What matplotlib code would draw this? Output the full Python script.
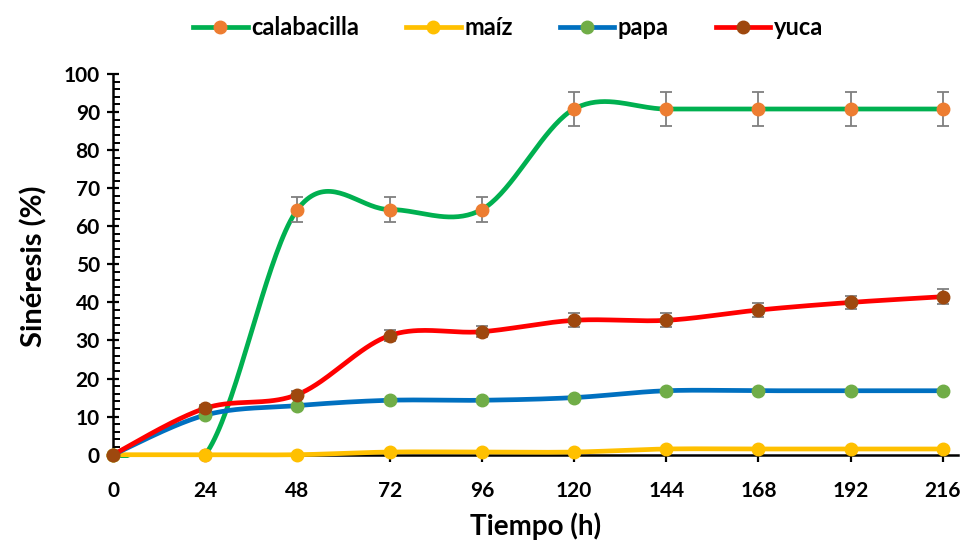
import numpy as np
import matplotlib
matplotlib.use("Agg")
import matplotlib.pyplot as plt
import matplotlib.ticker as ticker

plt.rcParams["font.family"] = ["Lato", "DejaVu Sans"]
plt.rcParams["font.weight"] = "bold"

# tiempo de almacenamiento (h)
tiempo = [0, 24, 48, 72, 96, 120, 144, 168, 192, 216]

calabacilla = [0, 0, 64.4, 64.4, 64.4, 90.8, 90.8, 90.8, 90.8, 90.8]
calabacilla_err = [0, 0, 3.3, 3.3, 3.3, 4.5, 4.5, 4.5, 4.5, 4.5]

maiz = [0, 0, 0, 0.7, 0.7, 0.7, 1.5, 1.5, 1.5, 1.5]
maiz_err = [0, 0, 0, 0, 0, 0, 0, 0, 0, 0]

papa = [0, 10.4, 12.9, 14.3, 14.3, 15.0, 16.8, 16.8, 16.8, 16.8]
papa_err = [0, 0, 0, 0, 0, 0, 0, 0, 0, 0]

yuca = [0, 12.2, 15.8, 31.3, 32.3, 35.3, 35.3, 38.0, 40.0, 41.5]
yuca_err = [0, 0.8, 1.0, 1.5, 1.5, 1.8, 1.8, 1.8, 1.8, 2.0]

series = [
    ("calabacilla", calabacilla, calabacilla_err, "#00B050", "#ED7D31"),
    ("maíz", maiz, maiz_err, "#FFC000", "#FFC000"),
    ("papa", papa, papa_err, "#0070C0", "#70AD47"),
    ("yuca", yuca, yuca_err, "#FF0000", "#9E480E"),
]


def suavizar(x, y, n=40):
    # curva tipo Catmull-Rom convertida a Bezier cúbica (como el suavizado de Excel)
    x = np.asarray(x, float)
    y = np.asarray(y, float)
    p = np.column_stack([x, y])
    p = np.vstack([p[0], p, p[-1]])
    out = []
    t = np.linspace(0, 1, n)[:, None]
    for i in range(1, len(p) - 2):
        p0, p1, p2, p3 = p[i - 1], p[i], p[i + 1], p[i + 2]
        c1 = p1 + (p2 - p0) / 6
        c2 = p2 - (p3 - p1) / 6
        seg = ((1 - t) ** 3) * p1 + 3 * ((1 - t) ** 2) * t * c1 \
            + 3 * (1 - t) * t ** 2 * c2 + t ** 3 * p2
        out.append(seg if i == 1 else seg[1:])
    out = np.vstack(out)
    return out[:, 0], out[:, 1]


fig = plt.figure(figsize=(9.66, 5.48), dpi=100)
ax = fig.add_axes([0.117, 0.164, 0.875, 0.701])

handles = []
for k, (nombre, vals, err, color_linea, color_punto) in enumerate(series):
    xs, ys = suavizar(tiempo, vals)
    z = 3 + k
    ax.plot(xs, ys, color=color_linea, lw=3.4, solid_capstyle="round", zorder=z)
    if any(e > 0 for e in err):
        ax.errorbar(tiempo, vals, yerr=err, fmt="none", ecolor="#7F7F7F",
                    elinewidth=1.3, capsize=4, capthick=1.3, zorder=z, clip_on=False)
    ax.plot(tiempo, vals, "o", color=color_punto, ms=9, mec=color_punto,
            zorder=z + 0.5, clip_on=False)
    h, = ax.plot([], [], color=color_linea, lw=3.4, marker="o", ms=9,
                 mfc=color_punto, mec=color_punto, label=nombre)
    handles.append(h)

ax.set_xlim(0, 220)
ax.set_ylim(-0.9, 100)
ax.xaxis.set_major_locator(ticker.FixedLocator(tiempo))
ax.yaxis.set_major_locator(ticker.MultipleLocator(10))
ax.yaxis.set_minor_locator(ticker.MultipleLocator(2))

for s in ["top", "right"]:
    ax.spines[s].set_visible(False)
ax.spines["bottom"].set_position(("data", 0))
ax.spines["left"].set_bounds(0, 100)
ax.spines["bottom"].set_linewidth(1.8)
ax.spines["left"].set_linewidth(1.8)

ax.tick_params(axis="y", which="major", direction="inout", length=9, width=1.6,
               labelsize=15, pad=5)
ax.tick_params(axis="y", which="minor", direction="in", length=5, width=1.4)
ax.tick_params(axis="x", which="major", direction="out", length=5, width=1.6,
               labelsize=15, pad=14)
for lab in ax.get_xticklabels() + ax.get_yticklabels():
    lab.set_fontweight("bold")

ax.set_xlabel("Tiempo (h)", fontsize=20, fontweight="bold", labelpad=8)
ax.set_ylabel("Sinéresis (%)", fontsize=21, fontweight="bold", labelpad=12)

fig.legend(handles=handles, loc="upper center", bbox_to_anchor=(0.526, 1.01),
           ncol=4, frameon=False, fontsize=17, handlelength=2.3,
           columnspacing=2.0, handletextpad=0.15)

fig.savefig("out.png", dpi=100)
